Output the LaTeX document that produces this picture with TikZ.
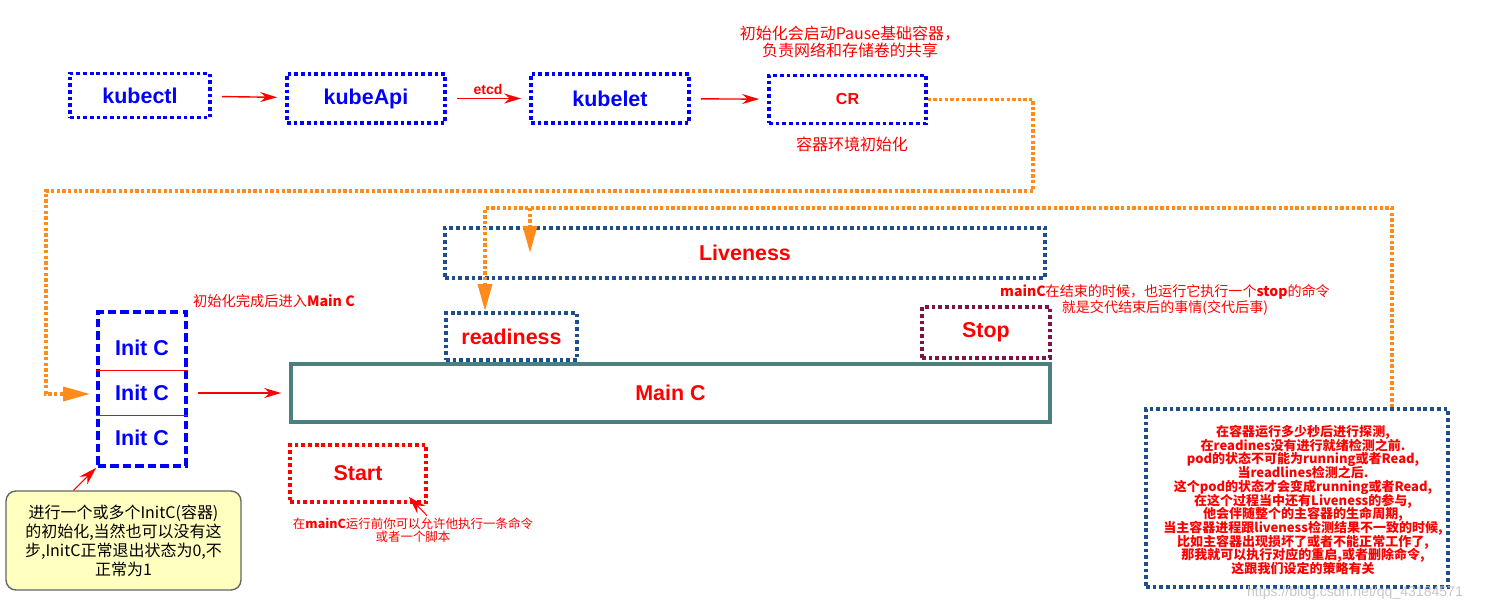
\documentclass[tikz,border=0pt]{standalone}
\usepackage{fontspec}
\setmainfont{Liberation Sans}
\newfontfamily\cjk{Noto Sans CJK SC}
\usetikzlibrary{arrows.meta}
\definecolor{navyline}{HTML}{1F4E8C}
\definecolor{plumline}{HTML}{7F1347}
\definecolor{tealline}{HTML}{4A8080}
\definecolor{flowline}{HTML}{FF8C1A}
\definecolor{notefill}{HTML}{FFFFC0}
\newcommand{\lblfont}{\fontsize{12.2}{14}\selectfont\bfseries}
\newcommand{\tightlines}{\lineskiplimit=-10pt\lineskip=0pt}
\tikzstyle{dotbox} = [rectangle, line width=2.1pt, dash pattern=on 2.1pt off 1.7pt, font=\lblfont]
\tikzstyle{bluebox} = [dotbox, draw=blue, text=blue]
\tikzstyle{navybox} = [dotbox, draw=navyline, text=red]
\tikzstyle{stopbox} = [dotbox, draw=plumline, text=red]
\tikzstyle{startbox} = [dotbox, draw=red, text=red]
\tikzstyle{mainbox} = [rectangle, draw=tealline, line width=2.1pt, text=red, font=\lblfont]
\tikzstyle{initbox} = [rectangle, draw=blue, line width=2.1pt, dash pattern=on 4.8pt off 2.3pt]
\tikzstyle{initlabel} = [minimum width=1.7cm, minimum height=0.9cm, text=blue, font=\lblfont]
\tikzstyle{note} = [text=red, align=center, inner sep=1pt]
\tikzstyle{line} = [draw, red, line width=0.8pt, -{Stealth[length=0.34cm, width=0.2cm]}, shorten <=0.2cm, shorten >=0.16cm]
\tikzstyle{pointer} = [draw, red, line width=0.6pt, -{Stealth[length=0.36cm, width=0.22cm]}]
\tikzstyle{flow} = [draw=flowline, line width=1.9pt, dash pattern=on 1.9pt off 1.3pt, -{Triangle[length=0.54cm, width=0.28cm, fill=flowline]}]

\begin{document}
\begin{tikzpicture}[node distance=1cm, auto]
            \useasboundingbox (0,0) rectangle (29.7,-12.22);
            % Draw nodes
            % Top line
            \node (kubectl) [bluebox, minimum width=2.8cm, minimum height=0.88cm] at (2.8,-1.91) {kubectl};
            \node (kubeApi) [bluebox, minimum width=3.16cm, minimum height=0.98cm, right of=kubectl, xshift=3.52cm, yshift=-0.06cm] {kubeApi};
            \node (kubelet) [bluebox, minimum width=3.16cm, minimum height=0.98cm, right of=kubeApi, xshift=3.88cm] {kubelet};
            \node (cr) [dotbox, draw=blue, text=red, font=\fontsize{9.1}{11}\selectfont\bfseries, minimum width=3.14cm, minimum height=0.96cm, right of=kubelet, xshift=3.75cm, yshift=-0.02cm] {CR};
            \node (crnote) [note, font=\cjk\fontsize{9.1}{9.7}\selectfont\tightlines, above of=cr, xshift=0.05cm, yshift=0.15cm] {初始化会启动Pause基础容器，\\负责网络和存储卷的共享};
            \node (crsub) [note, font=\cjk\fontsize{9.1}{9.7}\selectfont, below of=cr, xshift=0.09cm, yshift=0.11cm] {容器环境初始化};

            % Main C and probes
            \node (mainc) [mainbox, minimum width=15.18cm, minimum height=1.16cm] at (13.41,-7.86) {Main C};
            \node (liveness) [navybox, minimum width=12cm, minimum height=1cm, above of=mainc, xshift=1.49cm, yshift=1.8cm] {Liveness};
            \node (readiness) [navybox, minimum width=2.62cm, minimum height=0.94cm, above of=mainc, xshift=-3.18cm, yshift=0.13cm] {readiness};
            \node (stop) [stopbox, minimum width=2.56cm, minimum height=1.02cm, above of=mainc, xshift=6.31cm, yshift=0.21cm] {Stop};
            \node (start) [startbox, minimum width=2.72cm, minimum height=1.14cm, below of=mainc, xshift=-6.25cm, yshift=-0.61cm] {Start};
            \node (stopnote) [note, font=\cjk\fontsize{8}{9}\selectfont\tightlines, above of=stop, xshift=3.58cm, yshift=-0.35cm] {{\bfseries mainC}在结束的时候，也运行它执行一个{\bfseries stop}的命令\\就是交代结束后的事情(交代后事)};
            \node (startnote) [note, font=\cjk\fontsize{7.1}{7.4}\selectfont\tightlines, below of=start, xshift=1.1cm, yshift=-0.13cm] {在{\bfseries mainC}运行前你可以允许他执行一条命令\\或者一个脚本};

            % Left line
            \node (initc) [initbox, minimum width=1.76cm, minimum height=3.08cm, left of=mainc, xshift=-9.57cm, yshift=0.08cm] {};
            \node (init2) [initlabel, yshift=-0.08cm] at (initc) {Init C};
            \node (init1) [initlabel, above of=init2, yshift=-0.1cm] {Init C};
            \node (init3) [initlabel, below of=init2, yshift=0.1cm] {Init C};
            \node (initnote) [note, font=\cjk\fontsize{8.1}{9}\selectfont, above of=initc, xshift=2.64cm, yshift=0.76cm] {初始化完成后进入{\bfseries Main C}};
            \node (initcomment) [rectangle, rounded corners=0.2cm, draw=black!60, line width=0.8pt, fill=notefill, align=center, font=\cjk\fontsize{9.1}{10.8}\selectfont\tightlines, minimum width=4.7cm, minimum height=1.98cm, below of=initc, xshift=-0.37cm, yshift=-2.03cm] {进行一个或多个InitC(容器)\\的初始化,当然也可以没有这\\步,InitC正常退出状态为0,不\\正常为1};

            % Right line
            \node (probe) [dotbox, draw=navyline, minimum width=6.04cm, minimum height=3.56cm, right of=mainc, xshift=11.53cm, yshift=-2.1cm] {};
            \node (probenote) [note, font=\cjk\bfseries\fontsize{7.4}{7.8}\selectfont\tightlines, xshift=0.12cm, yshift=-0.04cm] at (probe) {在容器运行多少秒后进行探测,\\在readines没有进行就绪检测之前.\\pod的状态不可能为running或者Read,\\当readlines检测之后.\\这个pod的状态才会变成running或者Read,\\在这个过程当中还有Liveness的参与,\\他会伴随整个的主容器的生命周期,\\当主容器进程跟liveness检测结果不一致的时候,\\比如主容器出现损坏了或者不能正常工作了,\\那我就可以执行对应的重启,或者删除命令,\\这跟我们设定的策略有关};
            \node (mark) [text=black!22, font=\fontsize{8}{9}\selectfont, below of=probe, xshift=1.16cm, yshift=-0.9cm] {https://blog.csdn.net/qq\_43184571};

            % Bends
            \coordinate (crturn) at (20.66,-3.82);
            \coordinate (leftturn) at (0.92,-3.82);
            \coordinate (probeturn) at (27.84,-4.16);
            \coordinate (livebranch) at (10.6,-4.16);

            % Draw lines
            % Top
            \path [line] (kubectl) -- (kubeApi);
            \path [line] (kubeApi) -- node[anchor=south, text=red, font=\fontsize{8}{9}\selectfont\bfseries, inner sep=2pt] {etcd} (kubelet);
            \path [line] (kubelet) -- (cr);

            % Main
            \path [line] (initc.east |- mainc.west) -- (mainc.west);
            \path [pointer] ([xshift=-1cm]initcomment.north) -- (initc.south west);
            \path [pointer] ([xshift=0.28cm]startnote.north) -- ([xshift=-0.38cm, yshift=0.14cm]start.south east);

            % Orange lines
            \path [flow, shorten >=0.12cm] (cr.east) -| (crturn) -- (leftturn) |- ([yshift=-0.1cm]initc.west);
            \path [flow] (probeturn |- probe.north) -- (probeturn) -| ([xshift=-0.53cm]readiness.north);
            \path [flow] (livebranch) -- (livebranch |- liveness.center);

            % Separators
            \draw [red, line width=0.6pt] (initc.west |- init1.south) -- (initc.east |- init1.south);
            \draw [red, line width=0.6pt] (initc.west |- init2.south) -- (initc.east |- init2.south);
        \end{tikzpicture}
\end{document}
